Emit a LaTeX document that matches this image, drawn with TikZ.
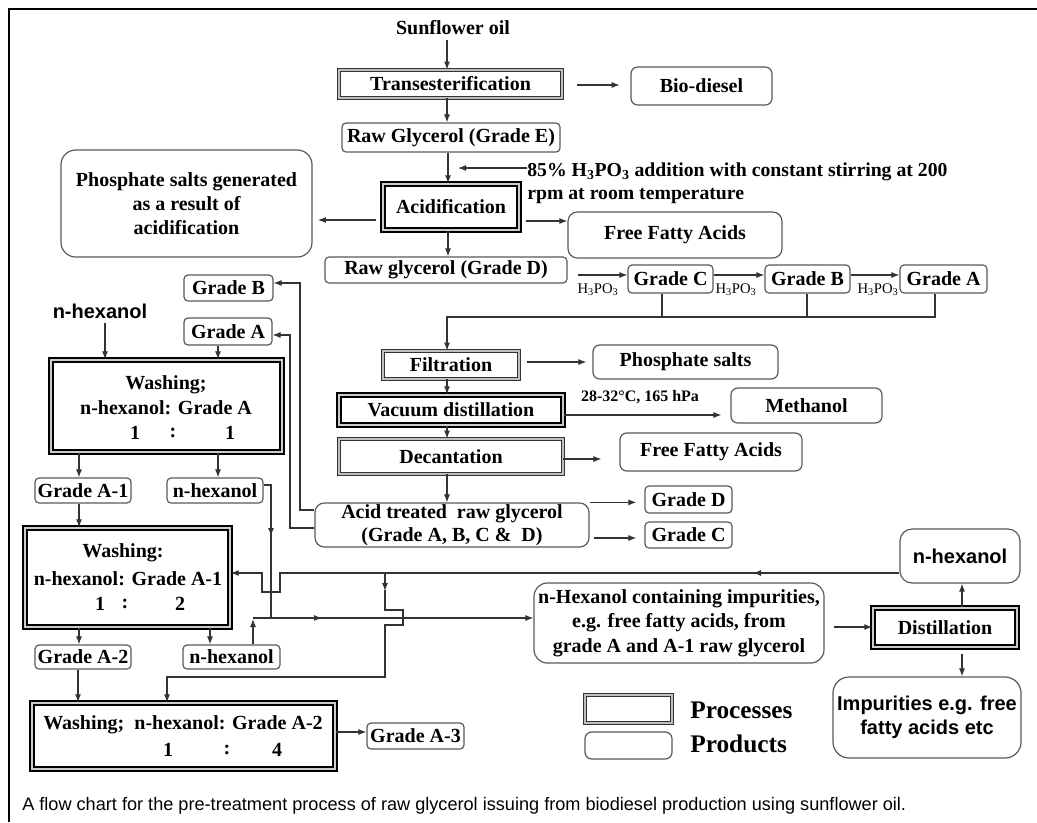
\documentclass[tikz,border=0pt]{standalone}
\usepackage{fontspec}
\setmainfont{Liberation Serif}
\setsansfont{Liberation Sans}
\usetikzlibrary{arrows.meta}
\begin{document}
\begin{tikzpicture}[x=0.75pt,y=-0.75pt,
  every node/.style={font=\fontsize{15}{17.5}\selectfont\bfseries},
  bx/.style n args={4}{at={({(#1+#3)/2},{(#2+#4)/2})}, minimum width={(#3-#1)*0.75pt}, minimum height={(#4-#2)*0.75pt}},
  prod/.style={draw=black!65, line width=0.9pt, rounded corners=3pt, inner sep=0pt, align=center},
  proc/.style={draw=black!80, double=gray!50, double distance=1.8pt, line width=0.7pt, inner sep=0pt, align=center},
  procB/.style={draw=black, double=gray!40, double distance=1.8pt, line width=1.1pt, inner sep=0pt, align=center},
  arr/.style={draw=black!80, line width=0.8pt, -{Latex[length=6pt,width=4.5pt]}},
  ln/.style={draw=black!80, line width=0.8pt},
  sm/.style={font=\fontsize{11}{13}\selectfont},
  tx/.style={inner sep=0pt}
]
\useasboundingbox (0,0) rectangle (1037,822);
\draw[line width=1.6pt] (8,9) -- (1037,9);
\draw[line width=1.8pt] (9,8.2) -- (9,822);

% main column
\node (sun) at (453,28) {Sunflower oil};
\node[proc, bx={339}{70}{562}{98}] (trans) {Transesterification};
\node[prod, rounded corners=5pt, bx={631}{67}{772}{105}] (bio) {Bio-diesel};
\node[prod, bx={342}{123}{560}{152}] (rawE) {Raw Glycerol (Grade E)};
\node[anchor=west, align=left, inner sep=0pt, font=\fontsize{14.8}{17.25}\selectfont\bfseries] (note) at (527,183) {85\% H\textsubscript{3}PO\textsubscript{3} addition with constant stirring at 200\\rpm at room temperature};
\node[procB, bx={383}{184}{519}{230}] (acid) {Acidification};
\node[prod, rounded corners=11pt, bx={61}{150}{312}{257}, font=\fontsize{15}{18}\selectfont\bfseries] (phos1) {Phosphate salts generated\\as a result of\\acidification};
\node[prod, rounded corners=7pt, bx={568}{212}{782}{258}] (ffa1) {Free Fatty Acids};
\node[prod, bx={325}{257}{567}{283}] (rawD) {Raw glycerol (Grade D)};
\node[prod, bx={628}{265}{713}{293}] (gC) {Grade C};
\node[prod, bx={765}{265}{850}{293}] (gB) {Grade B};
\node[prod, bx={900}{265}{987}{293}] (gA) {Grade A};
\node[sm] (h1) at (598,290) {H\textsubscript{3}PO\textsubscript{3}};
\node[sm] (h2) at (736,290) {H\textsubscript{3}PO\textsubscript{3}};
\node[sm] (h3) at (878,290) {H\textsubscript{3}PO\textsubscript{3}};
\node[proc, bx={383}{351}{519}{379}] (filt) {Filtration};
\node[prod, rounded corners=5pt, bx={593}{345}{778}{379}] (phos2) {Phosphate salts};
\node[procB, bx={339}{395}{563}{425}] (vac) {Vacuum distillation};
\node[font=\fontsize{12}{14}\selectfont\bfseries] (cond) at (640,397) {28-32°C, 165 hPa};
\node[prod, rounded corners=5pt, bx={731}{388}{882}{423}] (meth) {Methanol};
\node[proc, bx={339}{439}{563}{474}] (dec) {Decantation};
\node[prod, rounded corners=5pt, bx={620}{433}{802}{471}] (ffa2) {Free Fatty Acids};
\node[prod, rounded corners=7pt, bx={315}{503}{589}{547}, font=\fontsize{15}{17.25}\selectfont\bfseries] (acidt) {Acid treated\ \ raw glycerol\\(Grade A, B, C \&\ \ D)};
\node[prod, bx={645}{486}{732}{513}] (gD) {Grade D};
\node[prod, bx={645}{522}{732}{548}] (gC2) {Grade C};

% left column
\node[prod, bx={184}{275}{273}{301}] (gB2) {Grade B};
\node[prod, bx={184}{318}{272}{345}] (gA2) {Grade A};
\node[font=\fontsize{15}{17}\selectfont\sffamily\bfseries] (hex0) at (100,311) {n-hexanol};
\node[procB, bx={51}{360}{282}{452}] (wash1) {};
\node (w1a) at (166,385) {Washing;};
\node (w1b) at (166,408) {n-hexanol: Grade A};
\node (w1c) at (135,433) {1};
\node (w1d) at (173,433) {:};
\node (w1e) at (230,433) {1};
\node[prod, bx={35}{478}{131}{503}] (gA1) {Grade A-1};
\node[prod, bx={167}{478}{263}{503}] (hex1) {n-hexanol};
\node[procB, bx={25}{528}{230}{627}] (wash2) {};
\node (w2a) at (123,553) {Washing:};
\node (w2b) at (128,579) {n-hexanol: Grade A-1};
\node (w2c) at (100,604) {1};
\node (w2d) at (125,604) {:};
\node (w2e) at (180,604) {2};
\node[prod, bx={35}{645}{131}{669}] (gA2b) {Grade A-2};
\node[prod, bx={183}{645}{280}{669}] (hex2) {n-hexanol};
\node[procB, bx={32}{703}{335}{769}] (wash3) {};
\node (w3a) at (183,725) {Washing;\ \ n-hexanol: Grade A-2};
\node (w3c) at (168,750) {1};
\node (w3d) at (227,750) {:};
\node (w3e) at (277,750) {4};
\node[prod, bx={367}{723}{464}{749}] (gA3) {Grade A-3};

% right bottom
\node[prod, rounded corners=9pt, bx={900}{529}{1020}{583}, font=\fontsize{15}{17}\selectfont\sffamily\bfseries] (hexR) {n-hexanol};
\node[prod, rounded corners=10pt, bx={534}{583}{824}{663}, font=\fontsize{15}{18.4}\selectfont\bfseries] (imp) {n-Hexanol containing impurities,\\e.g. free fatty acids, from\\grade A and A-1 raw glycerol};
\node[procB, bx={873}{608}{1017}{647}] (dist) {Distillation};
\node[prod, rounded corners=12pt, bx={833}{677}{1021}{758}, font=\fontsize{15}{18}\selectfont\sffamily\bfseries] (impur) {Impurities e.g. free\\fatty acids etc};

% legend
\node[proc, bx={585}{695}{672}{723}] (legA) {};
\node[prod, rounded corners=5pt, bx={585}{732}{672}{759}] (legB) {};
\node[tx, anchor=west, font=\fontsize{19}{22}\selectfont\bfseries] (legAt) at (690,710) {Processes};
\node[tx, anchor=west, font=\fontsize{19}{22}\selectfont\bfseries] (legBt) at (690,744) {Products};

% caption
\node[tx, anchor=west, font=\fontsize{13.6}{16}\selectfont\sffamily] (cap) at (22,806) {A flow chart for the pre-treatment process of raw glycerol issuing from biodiesel production using sunflower oil.};

% connectors, main column
\coordinate (noteEnd) at (458,168);
\draw[arr] (sun.south -| 447,0) -- (trans.north -| 447,0);
\draw[arr] (trans.south -| 447,0) -- (rawE.north -| 447,0);
\draw[arr] (rawE.south -| 448,0) -- (acid.north -| 448,0);
\draw[arr] (note.west |- 0,168) -- (noteEnd);
\draw[arr, shorten <=11pt, shorten >=8pt] (trans.east |- 0,85) -- (bio.west |- 0,85);
\draw[arr, shorten <=4.5pt, shorten >=4pt] (acid.west |- 0,220) -- (phos1.east |- 0,220);
\draw[arr, shorten <=4.5pt] (acid.east |- 0,221) -- (ffa1.west |- 0,221);
\draw[arr] (acid.south -| 448,0) -- (rawD.north -| 448,0);
\draw[arr, shorten <=7.5pt] (rawD.east |- 0,275) -- (gC.west |- 0,275);
\draw[arr] (gC.east |- 0,275) -- (gB.west |- 0,275);
\draw[arr] (gB.east |- 0,275) -- (gA.west |- 0,275);
\draw[ln] (gC.south -| 662,0) -- (662,317);
\draw[ln] (gB.south -| 807,0) -- (807,317);
\draw[arr] (gA.south -| 935,0) -- (935,317) -- (447,317) -- (filt.north -| 447,0);
\draw[arr, shorten <=6pt, shorten >=4.5pt] (filt.east |- 0,362) -- (phos2.west |- 0,362);
\draw[arr] (filt.south -| 447,0) -- (vac.north -| 447,0);
\draw[arr, shorten >=6.75pt] (vac.east |- 0,415) -- (meth.west |- 0,415);
\draw[arr] (vac.south -| 447,0) -- (dec.north -| 447,0);
\draw[arr, shorten >=13.5pt] (dec.east |- 0,459) -- (ffa2.west |- 0,459);
\draw[arr] (dec.south -| 447,0) -- (acidt.north -| 447,0);
\draw[arr, shorten >=6pt] (acidt.north east) -- (gD.west |- acidt.north east);
\draw[arr, shorten <=3pt, shorten >=6pt] (acidt.east |- 0,538) -- (gC2.west |- 0,538);
\draw[arr] (acidt.west |- 0,510) -- (300,510) -- (300,283) -- (gB2.east |- 0,283);
\draw[arr] (acidt.west |- 0,528) -- (290,528) -- (290,335) -- (gA2.east |- 0,335);

% washing chain
\draw[arr] (hex0.south -| 105,0) -- (wash1.north -| 105,0);
\draw[arr] (gA2.south -| 218,0) -- (wash1.north -| 218,0);
\draw[arr] (wash1.south -| 79,0) -- (gA1.north -| 79,0);
\draw[arr] (wash1.south -| 218,0) -- (hex1.north -| 218,0);
\draw[arr] (gA1.south -| 79,0) -- (wash2.north -| 79,0);
\draw[arr] (wash2.south -| 79,0) -- (gA2b.north -| 79,0);
\draw[arr] (wash2.south -| 210,0) -- (hex2.north -| 210,0);
\draw[arr] (gA2b.south -| 78,0) -- (wash3.north -| 78,0);
\draw[arr] (wash3.east |- 0,732) -- (gA3.west |- 0,732);

% used n-hexanol collection
\draw[ln] (hex1.east |- 0,485) -- (271,485) -- (271,618);
\draw[arr] (271,526) -- (271,536);
\draw[arr] (hex2.north -| 253,0) -- (253,619);
\draw[arr] (253,618) -- (imp.west |- 0,618);
\draw[arr] (300,618) -- (322,618);

% recycled n-hexanol
\draw[arr] (hexR.west |- 0,573) -- (280,573) -- (280,592) -- (262,592) -- (262,573) -- (wash2.east |- 0,573);
\draw[arr] (770,573) -- (753,573);
\draw[arr] (385,573) -- (385,591);
\draw[arr] (385,590) -- (385,610) -- (403,610) -- (403,625) -- (385,625) -- (385,677) -- (167,677) -- (wash3.north -| 167,0);

% distillation
\draw[arr, shorten <=6.75pt] (imp.east |- 0,627) -- (dist.west |- 0,627);
\draw[arr] (dist.north -| 962,0) -- (hexR.south -| 962,0);
\draw[arr, shorten <=4.5pt] (dist.south -| 962,0) -- (impur.north -| 962,0);
\end{tikzpicture}
\end{document}
